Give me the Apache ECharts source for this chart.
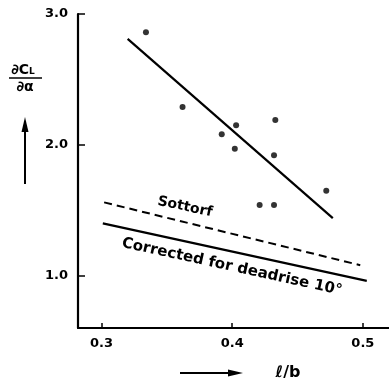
<!DOCTYPE html>
<html>
<head>
<meta charset="utf-8">
<script src="https://cdn.jsdelivr.net/npm/echarts@6/dist/echarts.min.js"></script>
<style>html,body{margin:0;padding:0;background:#fff}#c{width:389px;height:384px}</style>
</head>
<body>
<div id="c"></div>
<script>
// Measured points: l/b vs dCL/dalpha
const lb  = [0.334, 0.362, 0.403, 0.392, 0.402, 0.433, 0.432, 0.472, 0.421, 0.432];
const dcl = [2.86, 2.29, 2.15, 2.08, 1.97, 2.19, 1.92, 1.65, 1.54, 1.54];
// Fitted line through points
const fitX = [0.320, 0.477];
const fitY = [2.81, 1.44];
// Sottorf curve (dashed)
const sottorfX = [0.302, 0.498];
const sottorfY = [1.56, 1.08];
// Corrected for deadrise 10°
const corrX = [0.301, 0.503];
const corrY = [1.40, 0.96];
// Tick labels
const xTicks = [0.3, 0.4, 0.5];
const yTicks = [1.0, 2.0, 3.0];

const zip = (a, b) => a.map((v, i) => [v, b[i]]);
const FONT = '"DejaVu Sans", sans-serif';
const chart = echarts.init(document.getElementById('c'), null, {renderer: 'canvas'});
chart.setOption({
  animation: false,
  backgroundColor: '#fff',
  grid: {left: 78, right: 0, top: 14, bottom: 56, containLabel: false},
  xAxis: {
    type: 'value', min: 0.282, max: 0.52,
    axisLine: {lineStyle: {color: '#000', width: 2.2}},
    axisTick: {inside: true, length: 5, lineStyle: {color: '#000', width: 1.5}, customValues: xTicks},
    axisLabel: {customValues: xTicks, formatter: v => v.toFixed(1), color: '#000', fontSize: 13, fontWeight: 'bold', fontFamily: FONT, margin: 9},
    splitLine: {show: false}
  },
  yAxis: {
    type: 'value', min: 0.6, max: 3.0,
    axisLine: {lineStyle: {color: '#000', width: 2.2}},
    axisTick: {inside: true, length: 7, lineStyle: {color: '#000', width: 1.5}, customValues: yTicks},
    axisLabel: {customValues: yTicks, formatter: v => v.toFixed(1), color: '#000', fontSize: 13, fontWeight: 'bold', fontFamily: FONT, margin: 10},
    splitLine: {show: false}
  },
  series: [
    {type: 'scatter', data: zip(lb, dcl), symbol: 'circle', symbolSize: 6, itemStyle: {color: '#000'}},
    {type: 'line', data: zip(fitX, fitY), showSymbol: false, lineStyle: {color: '#000', width: 2.2}},
    {type: 'line', data: zip(sottorfX, sottorfY), showSymbol: false, lineStyle: {color: '#000', width: 2, type: [8, 5]}},
    {type: 'line', data: zip(corrX, corrY), showSymbol: false, lineStyle: {color: '#000', width: 2.2}}
  ],
  graphic: [
    {type: 'text', x: 185, y: 207, rotation: -0.21,
     style: {text: 'Sottorf', font: 'bold 14px ' + FONT, fill: '#000', align: 'center', verticalAlign: 'middle'}},
    {type: 'text', x: 232, y: 267, rotation: -0.215,
     style: {text: 'Corrected for deadrise 10°', font: 'bold 15px ' + FONT, fill: '#000', align: 'center', verticalAlign: 'middle'}},
    {type: 'text', x: 23, y: 70,
     style: {text: '{a|∂C}{s|L}', align: 'center', verticalAlign: 'middle',
       rich: {a: {font: 'bold 14px ' + FONT, fill: '#000', color: '#000'}, s: {font: 'bold 9px ' + FONT, color: '#000', fill: '#000', padding: [4, 0, 0, 0]}}}},
    {type: 'line', shape: {x1: 9, y1: 78, x2: 42, y2: 78}, style: {stroke: '#000', lineWidth: 1.5}},
    {type: 'text', x: 25, y: 87,
     style: {text: '∂α', font: 'bold 14px ' + FONT, fill: '#000', align: 'center', verticalAlign: 'middle'}},
    {type: 'line', shape: {x1: 25, y1: 184, x2: 25, y2: 128}, style: {stroke: '#000', lineWidth: 2}},
    {type: 'polygon', shape: {points: [[25, 117], [21.5, 132], [28.5, 132]]}, style: {fill: '#000'}},
    {type: 'line', shape: {x1: 180, y1: 373, x2: 232, y2: 373}, style: {stroke: '#000', lineWidth: 2}},
    {type: 'polygon', shape: {points: [[243, 373], [228, 369.5], [228, 376.5]]}, style: {fill: '#000'}},
    {type: 'text', x: 288, y: 373,
     style: {text: 'ℓ/b', font: 'bold 16px ' + FONT, fill: '#000', align: 'center', verticalAlign: 'middle'}}
  ]
});
</script>
</body>
</html>
